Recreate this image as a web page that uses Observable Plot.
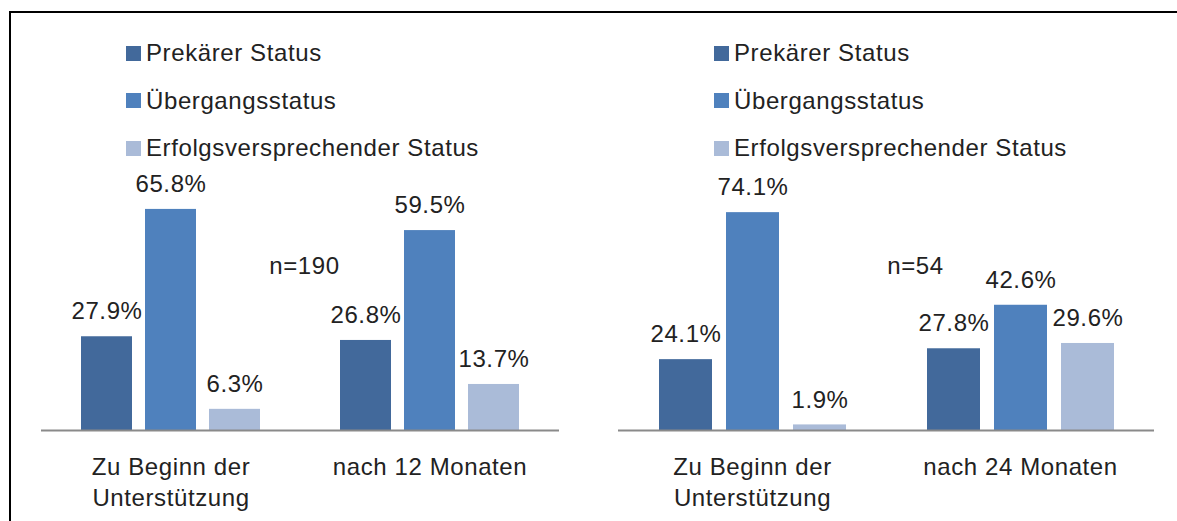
<!DOCTYPE html>
<html>
<head>
<meta charset="utf-8">
<script src="https://cdn.jsdelivr.net/npm/d3@7"></script>
<script src="https://cdn.jsdelivr.net/npm/@observablehq/plot@0.6"></script>
<style>
  html, body { margin: 0; padding: 0; background: #fff; }
  #wrap { position: relative; width: 1177px; height: 521px; overflow: hidden; font-family: "Liberation Sans", Arial, sans-serif; color: #222; }
  .panel { position: absolute; top: 0; }
  .legend { position: absolute; font-size: 24px; letter-spacing: 0.6px; }
  .legend .row { position: absolute; white-space: nowrap; display: flex; align-items: center; height: 24px; }
  .legend .sw { width: 15px; height: 15px; margin-right: 5px; display: inline-block; }
  .bline { position: absolute; background: #000; }
</style>
</head>
<body>
<div id="wrap"></div>
<script>
// ---- data ----
const series = ["Prekärer Status", "Übergangsstatus", "Erfolgsversprechender Status"];
const colors = ["#42699B", "#4F81BD", "#AABBD8"];
const leftCategories = ["Zu Beginn der\nUnterstützung", "nach 12 Monaten"];
const leftValues = [[27.9, 65.8, 6.3], [26.8, 59.5, 13.7]];
const leftN = "n=190";
const rightCategories = ["Zu Beginn der\nUnterstützung", "nach 24 Monaten"];
const rightValues = [[24.1, 74.1, 1.9], [27.8, 42.6, 29.6]];
const rightN = "n=54";

function table(cats, vals) {
  const out = [];
  cats.forEach((c, i) => series.forEach((s, j) => out.push({cat: c, series: s, value: vals[i][j]})));
  return out;
}

function panel({cats, vals, nLabel, nY, nDx, width, marginLeft, marginRight, marginTop, paddingInner}) {
  const data = table(cats, vals);
  return Plot.plot({
    width, height: 521,
    marginLeft, marginRight, marginTop, marginBottom: 91,
    style: {fontFamily: '"Liberation Sans", Arial, sans-serif', fontSize: "24px", color: "#222", background: "transparent", letterSpacing: "0.6px"},
    fx: {domain: cats, padding: 0, label: null},
    x: {domain: series, paddingInner, paddingOuter: 0.6, axis: null},
    y: {domain: [0, 100], axis: null},
    color: {domain: series, range: colors},
    marks: [
      Plot.barY(data, {fx: "cat", x: "series", y: "value", fill: "series"}),
      Plot.ruleY([0], {stroke: "#8a8a8a", strokeWidth: 2}),
      Plot.text(data, {fx: "cat", x: "series", y: "value", text: d => d.value.toFixed(1) + "%", dy: -25, fontSize: 24}),
      Plot.text([{cat: cats[1], label: nLabel, y: nY}], {fx: "cat", y: "y", text: "label", frameAnchor: "left", textAnchor: "middle", dx: nDx, fontSize: 24}),
      Plot.axisFx({anchor: "bottom", tickSize: 0, tickPadding: 22, fontSize: 24, lineHeight: 1.3, label: null})
    ]
  });
}

const wrap = document.getElementById("wrap");

const leftPlot = panel({cats: leftCategories, vals: leftValues, nLabel: leftN, nY: 49, nDx: 4,
  width: 588, marginLeft: 40, marginRight: 29, marginTop: 94, paddingInner: 0.2});
leftPlot.classList.add("panel"); leftPlot.style.left = "0px";
wrap.appendChild(leftPlot);

const rightPlot = panel({cats: rightCategories, vals: rightValues, nLabel: rightN, nY: 56, nDx: 29,
  width: 589, marginLeft: 30, marginRight: 23, marginTop: 136, paddingInner: 0.21});
rightPlot.classList.add("panel"); rightPlot.style.left = "588px";
wrap.appendChild(rightPlot);

// legends
function legend(x0) {
  const lg = document.createElement("div");
  lg.className = "legend";
  lg.style.left = x0 + "px"; lg.style.top = "0px";
  series.forEach((s, i) => {
    const row = document.createElement("div");
    row.className = "row";
    row.style.top = (41 + i * 47.5) + "px";
    row.style.left = "0px";
    const sw = document.createElement("span");
    sw.className = "sw"; sw.style.background = colors[i];
    row.appendChild(sw);
    row.appendChild(document.createTextNode(s));
    lg.appendChild(row);
  });
  wrap.appendChild(lg);
}
legend(126);
legend(714);

// border lines
const topLine = document.createElement("div");
topLine.className = "bline"; topLine.style.left = "9px"; topLine.style.top = "11px"; topLine.style.width = "1168px"; topLine.style.height = "2px";
wrap.appendChild(topLine);
const leftLine = document.createElement("div");
leftLine.className = "bline"; leftLine.style.left = "9px"; leftLine.style.top = "11px"; leftLine.style.width = "2px"; leftLine.style.height = "510px";
wrap.appendChild(leftLine);
</script>
</body>
</html>
